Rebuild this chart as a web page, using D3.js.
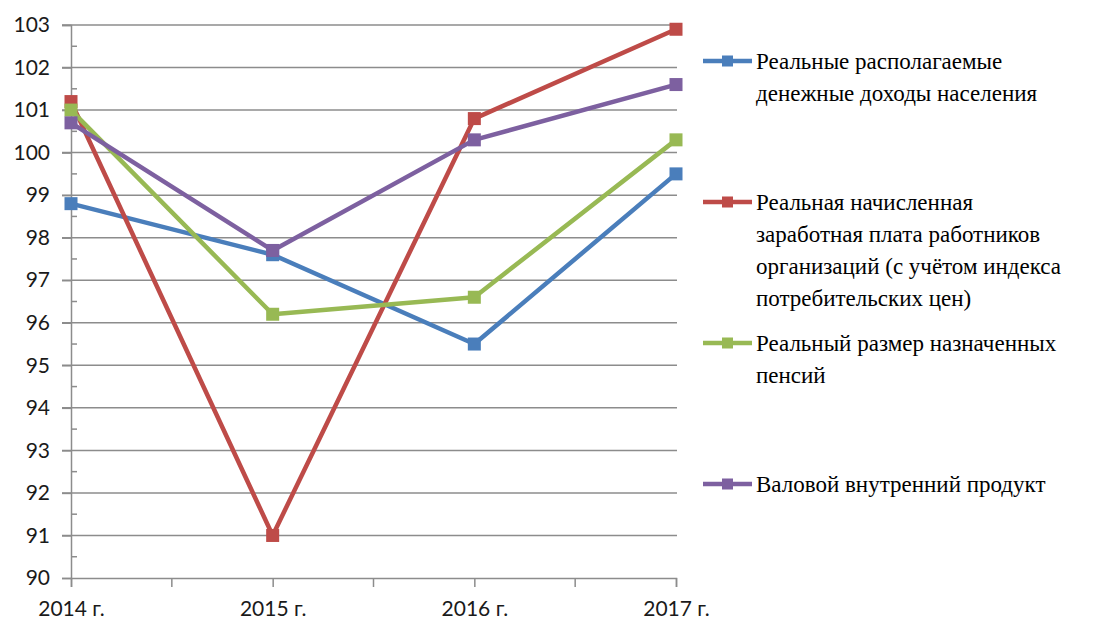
<!DOCTYPE html>
<html>
<head>
<meta charset="utf-8">
<script src="https://cdn.jsdelivr.net/npm/d3@7"></script>
<style>
  body { margin: 0; background: #fff; }
  svg { display: block; }
  svg text.lg { font-family: "Liberation Serif", "Times New Roman", "Noto Serif", "DejaVu Serif", serif !important; }
</style>
</head>
<body>
<div class="chart"></div>
<script>
const years = ["2014 г.", "2015 г.", "2016 г.", "2017 г."];
const yTicks = [90, 91, 92, 93, 94, 95, 96, 97, 98, 99, 100, 101, 102, 103];

const incomes = [98.8, 97.6, 95.5, 99.5];
const wages = [101.2, 91.0, 100.8, 102.9];
const pensions = [101.0, 96.2, 96.6, 100.3];
const gdp = [100.7, 97.7, 100.3, 101.6];

const seriesNames = [
  ["Реальные располагаемые", "денежные доходы населения"],
  ["Реальная начисленная", "заработная плата работников", "организаций (с учётом индекса", "потребительских цен)"],
  ["Реальный размер назначенных", "пенсий"],
  ["Валовой внутренний продукт"]
];
const colors = ["#4a7ebb", "#be4b48", "#98b954", "#7d60a0"];
const seriesValues = [incomes, wages, pensions, gdp];

const width = 1112, height = 619;
const svg = d3.select(".chart").append("svg")
  .attr("width", width)
  .attr("height", height);

const x = d3.scalePoint().domain(years).range([71, 676]);
const y = d3.scaleLinear().domain([90, 103]).range([578, 25]);

// gridlines
svg.append("g")
  .selectAll("line")
  .data(yTicks.slice(1))
  .enter()
  .append("line")
  .attr("x1", 62)
  .attr("x2", 677)
  .attr("y1", d => y(d))
  .attr("y2", d => y(d))
  .attr("stroke", "#8c8c8c")
  .attr("stroke-width", 1.5);

// y axis
const yAxis = d3.axisLeft(y).tickValues(yTicks).tickSize(9).tickPadding(12);
const gy = svg.append("g").attr("transform", "translate(71,0)").call(yAxis);
gy.select(".domain").attr("stroke", "#8c8c8c").attr("stroke-width", 1.5);
gy.selectAll(".tick line").attr("stroke", "#8c8c8c").attr("stroke-width", 1.5);
gy.selectAll("text")
  .style("font-family", "Lato, 'Open Sans', sans-serif")
  .style("font-size", "21px")
  .attr("fill", "#1a1a1a");

// minor y ticks (half units, inside)
svg.append("g")
  .selectAll("line")
  .data(yTicks.slice(0, -1).map(d => d + 0.5))
  .enter()
  .append("line")
  .attr("x1", 71)
  .attr("x2", 77)
  .attr("y1", d => y(d))
  .attr("y2", d => y(d))
  .attr("stroke", "#8c8c8c")
  .attr("stroke-width", 1.5);

// x axis
const xAxis = d3.axisBottom(x).tickSize(9).tickPadding(14);
const gx = svg.append("g").attr("transform", "translate(0,578)").call(xAxis);
gx.select(".domain").attr("stroke", "#8c8c8c").attr("stroke-width", 1.5);
gx.selectAll(".tick line").attr("stroke", "#8c8c8c").attr("stroke-width", 1.5);
gx.selectAll("text")
  .style("font-family", "Lato, 'Open Sans', sans-serif")
  .style("font-size", "21px")
  .attr("fill", "#1a1a1a");

// midpoint ticks on x axis
const step = x.step();
svg.append("g")
  .selectAll("line")
  .data(years.slice(0, -1))
  .enter()
  .append("line")
  .attr("x1", d => x(d) + step / 2)
  .attr("x2", d => x(d) + step / 2)
  .attr("y1", 578)
  .attr("y2", 587)
  .attr("stroke", "#8c8c8c")
  .attr("stroke-width", 1.5);

// lines and markers
const line = d3.line()
  .x((d, i) => x(years[i]))
  .y(d => y(d));

seriesValues.forEach((vals, s) => {
  const g = svg.append("g");
  g.append("path")
    .datum(vals)
    .attr("d", line)
    .attr("fill", "none")
    .attr("stroke", colors[s])
    .attr("stroke-width", 4.5)
    .attr("stroke-linejoin", "round");
  g.selectAll("rect")
    .data(vals)
    .enter()
    .append("rect")
    .attr("x", (d, i) => x(years[i]) - 6.5)
    .attr("y", d => y(d) - 6.5)
    .attr("width", 13)
    .attr("height", 13)
    .attr("fill", colors[s]);
});

// legend: one text per line, serif
const legendRows = [];
seriesNames.forEach((lines, s) => {
  lines.forEach((txt, i) => legendRows.push({ s, i, txt }));
});
const legend = svg.append("g");
legend.selectAll("line")
  .data(seriesNames)
  .enter()
  .append("line")
  .attr("x1", 703).attr("x2", 752)
  .attr("y1", (d, s) => 61 + s * 141)
  .attr("y2", (d, s) => 61 + s * 141)
  .attr("stroke", (d, s) => colors[s])
  .attr("stroke-width", 4.5);
legend.selectAll("rect")
  .data(seriesNames)
  .enter()
  .append("rect")
  .attr("x", 722).attr("y", (d, s) => 61 + s * 141 - 5.5)
  .attr("width", 11).attr("height", 11)
  .attr("fill", (d, s) => colors[s]);
legend.selectAll("text")
  .data(legendRows)
  .enter()
  .append("text")
  .attr("class", "lg")
  .attr("x", 756)
  .attr("y", d => 61 + d.s * 141 + d.i * 32 + 8)
  .attr("font-family", "Liberation Serif, Times New Roman, serif")
  .style("font-size", "23px")
  .attr("fill", "#000")
  .text(d => d.txt);
</script>
</body>
</html>
